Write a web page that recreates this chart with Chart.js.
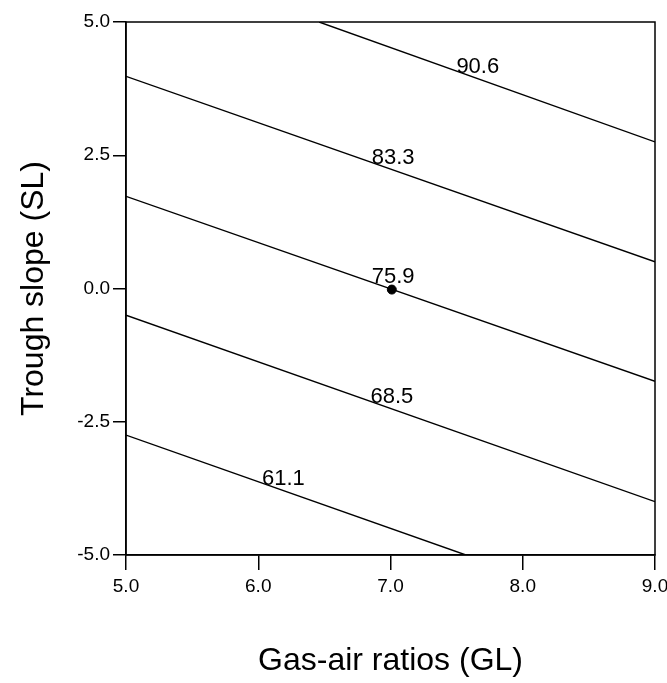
<!DOCTYPE html>
<html lang="en">
<head>
    <meta charset="UTF-8">
    <title>Contour plot</title>
    <script src="https://cdn.jsdelivr.net/npm/chart.js"></script>
    <style>
        html, body {
            margin: 0;
            padding: 0;
            background: #ffffff;
        }
        #chart {
            display: block;
        }
    </style>
</head>
<body>
    <canvas id="chart" width="667" height="683"></canvas>
    <script>
        // contour levels and the two ends of each (straight) contour line
        var levels = ['61.1', '68.5', '75.9', '83.3', '90.6'];
        var line611X = [5.0, 7.57];
        var line611Y = [-2.75, -5.0];
        var line685X = [5.0, 9.0];
        var line685Y = [-0.50, -4.0];
        var line759X = [5.0, 9.0];
        var line759Y = [1.73, -1.74];
        var line833X = [5.0, 9.0];
        var line833Y = [3.98, 0.50];
        var line906X = [6.46, 9.0];
        var line906Y = [5.0, 2.75];

        // where the level labels sit (same order as levels)
        var labelX = [6.19, 7.01, 7.02, 7.02, 7.66];
        var labelY = [-3.57, -2.04, 0.21, 2.45, 4.15];

        // centre point
        var centerX = [7.01];
        var centerY = [-0.02];

        var xTicks = [5, 6, 7, 8, 9];
        var yTicks = [-5, -2.5, 0, 2.5, 5];

        var FONT = "'Liberation Sans', Arial, sans-serif";

        function toPoints(xs, ys) {
            return xs.map(function(x, i) { return {x: x, y: ys[i]}; });
        }

        function lineSet(xs, ys) {
            return {
                data: toPoints(xs, ys),
                showLine: true,
                borderColor: '#000000',
                borderWidth: 1.4,
                pointRadius: 0,
                fill: false
            };
        }

        // frame round the plot and the level labels
        var framePlugin = {
            id: 'frame',
            afterDatasetsDraw: function(chart) {
                var ctx = chart.ctx;
                var a = chart.chartArea;
                ctx.save();
                ctx.strokeStyle = '#000000';
                ctx.lineWidth = 1.5;
                ctx.strokeRect(a.left, a.top, a.right - a.left, a.bottom - a.top);

                var xs = chart.scales.x;
                var ys = chart.scales.y;
                ctx.fillStyle = '#000000';
                ctx.font = '22px ' + FONT;
                ctx.textAlign = 'center';
                ctx.textBaseline = 'middle';
                levels.forEach(function(lv, i) {
                    ctx.fillText(lv, xs.getPixelForValue(labelX[i]), ys.getPixelForValue(labelY[i]));
                });
                ctx.restore();
            }
        };

        new Chart(document.getElementById('chart'), {
            type: 'scatter',
            data: {
                datasets: [
                    lineSet(line611X, line611Y),
                    lineSet(line685X, line685Y),
                    lineSet(line759X, line759Y),
                    lineSet(line833X, line833Y),
                    lineSet(line906X, line906Y),
                    {
                        data: toPoints(centerX, centerY),
                        pointRadius: 4.5,
                        pointBackgroundColor: '#000000',
                        pointBorderColor: '#000000',
                        showLine: false
                    }
                ]
            },
            options: {
                responsive: false,
                animation: false,
                layout: {
                    padding: {top: 22, right: 12, bottom: 0, left: 0}
                },
                plugins: {
                    legend: {display: false},
                    tooltip: {enabled: false}
                },
                scales: {
                    x: {
                        type: 'linear',
                        min: 5,
                        max: 9,
                        afterFit: function(scale) {
                            scale.height = 128;
                            scale.paddingRight = 0;
                            scale.paddingLeft = 0;
                        },
                        afterBuildTicks: function(scale) {
                            scale.ticks = xTicks.map(function(v) { return {value: v}; });
                        },
                        ticks: {
                            color: '#000000',
                            padding: 5,
                            maxRotation: 0,
                            font: {family: FONT, size: 19},
                            callback: function(v) { return Number(v).toFixed(1); }
                        },
                        grid: {
                            drawOnChartArea: false,
                            color: '#000000',
                            lineWidth: 1.5,
                            tickLength: 15
                        },
                        border: {display: true, color: '#000000', width: 1.5},
                        title: {
                            display: true,
                            text: 'Gas-air ratios (GL)',
                            color: '#000000',
                            font: {family: FONT, size: 32},
                            padding: {top: 0, bottom: 3}
                        }
                    },
                    y: {
                        type: 'linear',
                        min: -5,
                        max: 5,
                        afterFit: function(scale) { scale.width = 126; },
                        afterBuildTicks: function(scale) {
                            scale.ticks = yTicks.map(function(v) { return {value: v}; });
                        },
                        ticks: {
                            color: '#000000',
                            padding: 3,
                            font: {family: FONT, size: 19},
                            callback: function(v) { return Number(v).toFixed(1); }
                        },
                        grid: {
                            drawOnChartArea: false,
                            color: '#000000',
                            lineWidth: 1.5,
                            tickLength: 13
                        },
                        border: {display: true, color: '#000000', width: 1.5},
                        title: {
                            display: true,
                            text: 'Trough slope (SL)',
                            color: '#000000',
                            font: {family: FONT, size: 32},
                            padding: {top: 15, bottom: 0}
                        }
                    }
                }
            },
            plugins: [framePlugin]
        });
    </script>
</body>
</html>
